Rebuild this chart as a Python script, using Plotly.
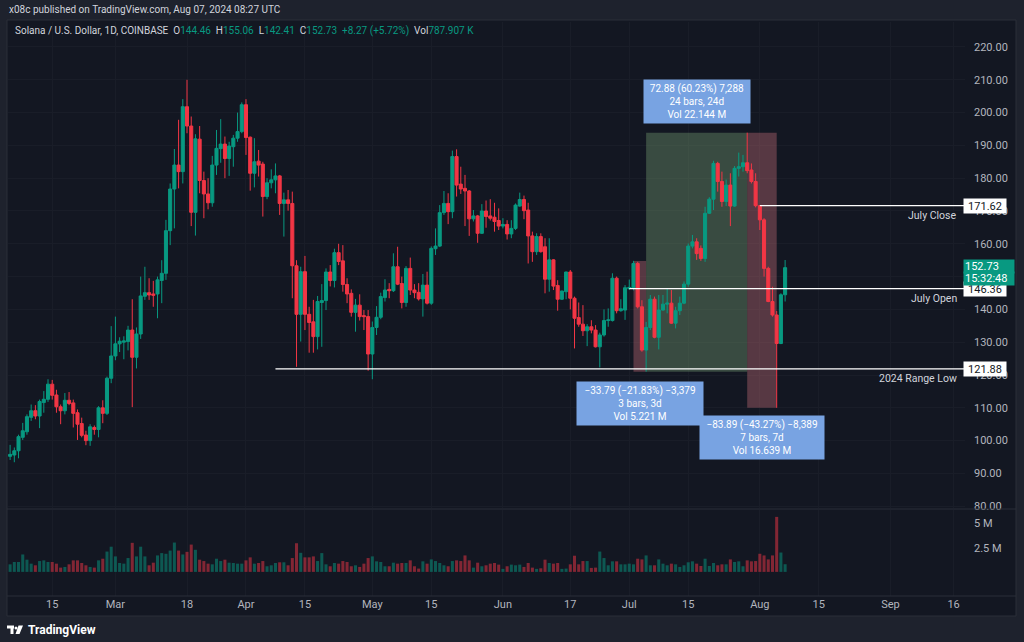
import pandas as pd
import plotly.graph_objects as go

# ---------------- data ----------------
dates = pd.date_range("2024-02-05", "2024-08-07", freq="D")

open_ = [
    # Feb 5-29
    95.2, 95.6, 96.9, 101.0, 102.7, 107.1, 109.1, 107.5, 111.6, 112.6, 117.2, 113.9, 110.3, 109.1, 112.3, 111.5, 108.5, 105.2, 101.7, 100.0, 104.0, 103.4, 110.0, 108.3, 119.0,
    # Mar
    125.8, 129.5, 130.0, 130.2, 133.7, 125.4, 132.5, 144.0, 145.1, 144.7, 144.7, 148.8, 151.0, 164.0, 176.7, 184.0, 182.0, 201.8, 195.9, 169.6, 191.9, 179.3, 175.2, 172.5, 184.0, 189.0, 190.4, 186.0, 189.6, 192.2, 194.2,
    # Apr
    202.4, 192.5, 181.5, 185.2, 184.3, 174.4, 178.6, 179.5, 180.7, 172.3, 173.4, 172.3, 153.3, 138.5, 151.5, 138.5, 136.2, 131.7, 142.1, 142.7, 151.4, 148.8, 157.3, 154.8, 147.6, 144.9, 139.1, 141.3, 138.1, 137.8,
    # May
    126.4, 134.5, 137.6, 143.6, 146.1, 145.7, 153.0, 147.9, 142.1, 152.5, 145.9, 145.2, 143.2, 147.4, 141.9, 158.5, 159.3, 169.5, 172.3, 169.8, 186.6, 178.2, 176.9, 176.1, 167.6, 168.5, 163.2, 170.0, 168.5, 168.1, 167.1,
    # Jun
    165.4, 165.9, 163.0, 164.7, 171.5, 173.5, 170.3, 162.4, 157.6, 162.2, 159.1, 149.2, 155.1, 147.3, 143.1, 145.4, 151.4, 143.4, 137.5, 135.5, 133.5, 134.7, 133.7, 128.6, 132.2, 136.6, 136.6, 149.5, 139.6, 139.8,
    # Jul
    146.36, 146.4, 154.0, 140.8, 127.6, 134.5, 143.1, 131.5, 139.8, 141.6, 141.9, 135.8, 139.6, 141.9, 147.7, 159.3, 160.6, 158.6, 155.5, 169.3, 173.6, 184.5, 179.0, 172.9, 177.9, 171.5, 183.0, 183.5, 184.7, 182.5, 179.0,
    # Aug 1-7
    171.62, 167.3, 152.5, 142.4, 138.3, 129.6, 144.46,
]
high = [
    98.7, 97.9, 101.8, 105.4, 108.0, 111.0, 110.8, 112.5, 115.1, 118.7, 118.5, 115.5, 111.0, 114.5, 114.8, 112.5, 109.5, 107.0, 103.0, 105.0, 104.6, 110.5, 112.3, 119.5, 134.9,
    137.8, 131.5, 131.8, 135.0, 143.1, 134.5, 150.0, 153.0, 149.5, 148.7, 150.0, 155.0, 167.3, 178.4, 188.9, 197.8, 204.1, 210.0, 198.8, 193.4, 195.9, 182.0, 180.0, 186.8, 194.7, 198.0, 192.7, 191.1, 193.2, 200.0, 203.1,
    204.1, 192.7, 192.2, 188.6, 185.0, 180.0, 182.7, 184.5, 181.0, 175.6, 176.4, 175.9, 155.0, 153.0, 156.3, 140.8, 142.9, 144.1, 147.7, 152.5, 153.5, 158.5, 160.0, 159.6, 149.5, 146.1, 143.2, 144.6, 139.8, 139.8,
    136.3, 141.0, 145.1, 149.2, 148.0, 157.1, 159.1, 150.0, 153.2, 155.8, 147.7, 148.0, 150.8, 151.5, 159.2, 164.7, 171.8, 176.1, 175.4, 188.4, 188.8, 183.5, 181.0, 176.4, 170.3, 168.8, 172.1, 173.2, 173.6, 172.5, 170.8,
    167.8, 167.2, 167.2, 172.3, 175.6, 174.7, 172.5, 163.7, 163.2, 163.2, 161.7, 161.7, 155.3, 148.9, 145.7, 151.5, 152.0, 143.9, 142.1, 141.3, 135.5, 136.7, 135.2, 132.9, 140.0, 140.3, 151.0, 150.0, 143.1, 147.4,
    149.1, 154.79, 154.5, 142.8, 136.2, 144.4, 143.9, 144.4, 144.4, 146.4, 145.9, 140.8, 143.9, 148.5, 160.1, 162.7, 161.7, 159.5, 171.3, 174.2, 185.3, 185.0, 182.0, 179.6, 181.5, 183.7, 187.8, 187.1, 193.88, 184.5, 181.5,
    171.8, 167.8, 153.0, 146.9, 139.5, 144.9, 155.06,
]
low = [
    94.1, 93.4, 94.6, 100.2, 101.8, 106.0, 106.5, 103.8, 108.5, 111.8, 112.5, 108.5, 105.0, 108.0, 110.8, 104.0, 100.2, 101.0, 98.6, 98.4, 101.8, 101.0, 105.3, 107.8, 117.5,
    124.5, 127.0, 124.8, 127.5, 110.2, 122.0, 131.0, 142.9, 142.9, 140.8, 137.3, 141.9, 149.0, 159.6, 164.7, 176.9, 178.4, 193.7, 165.4, 162.5, 175.4, 167.8, 170.5, 171.3, 181.0, 184.7, 180.0, 180.7, 183.5, 191.1, 193.7,
    187.1, 176.2, 177.2, 180.5, 168.3, 173.6, 176.9, 175.4, 168.8, 162.2, 170.1, 143.4, 122.5, 130.2, 133.7, 126.8, 126.8, 127.8, 128.6, 139.8, 147.0, 146.7, 153.5, 145.4, 141.9, 137.8, 133.2, 136.6, 133.7, 121.3,
    118.7, 132.2, 137.0, 142.4, 143.4, 145.3, 147.4, 140.3, 140.8, 144.4, 143.4, 142.7, 137.8, 141.5, 141.4, 156.6, 159.0, 168.8, 166.0, 167.8, 174.4, 175.2, 165.4, 162.4, 166.8, 160.3, 163.0, 164.9, 167.1, 163.7, 164.2,
    164.7, 161.3, 161.7, 164.2, 171.3, 167.5, 154.0, 154.5, 156.6, 157.3, 144.9, 145.4, 145.9, 139.6, 142.9, 143.1, 140.0, 128.1, 134.7, 131.9, 128.8, 132.7, 128.4, 122.3, 131.7, 134.7, 136.3, 138.8, 139.3, 136.8,
    145.9, 145.8, 140.3, 127.1, 121.0, 133.7, 131.2, 127.8, 139.6, 138.8, 135.6, 134.2, 138.3, 141.6, 146.9, 158.6, 155.1, 154.8, 154.5, 169.1, 170.3, 175.9, 171.3, 171.5, 165.4, 171.3, 180.5, 182.0, 181.5, 178.4, 171.1,
    164.2, 150.0, 142.2, 137.8, 110.0, 129.4, 142.41,
]
close = [
    95.8, 96.9, 101.2, 103.0, 107.3, 109.1, 107.5, 111.9, 112.6, 117.2, 113.8, 110.3, 109.1, 112.3, 111.3, 108.3, 105.0, 101.6, 100.0, 104.2, 103.4, 110.0, 108.3, 119.0, 125.8,
    129.5, 130.3, 130.4, 133.7, 125.4, 132.5, 144.1, 145.1, 144.4, 144.3, 149.0, 151.0, 164.0, 176.7, 184.0, 182.0, 201.8, 195.9, 169.6, 192.0, 179.3, 175.2, 172.5, 184.0, 189.1, 190.4, 186.0, 189.8, 192.2, 194.2, 202.4,
    192.4, 181.5, 185.0, 184.0, 174.4, 178.6, 179.5, 180.7, 172.3, 173.4, 172.3, 153.3, 138.5, 151.5, 138.5, 136.0, 131.7, 142.4, 142.7, 151.4, 148.8, 157.3, 154.6, 147.6, 144.7, 139.1, 141.3, 137.8, 137.8, 126.4,
    134.5, 137.6, 143.9, 145.9, 145.7, 153.0, 147.7, 142.1, 152.5, 145.9, 145.1, 143.2, 147.4, 141.9, 158.6, 159.3, 169.5, 172.3, 169.8, 186.6, 177.9, 176.7, 176.1, 167.6, 168.5, 163.2, 170.0, 168.3, 167.8, 166.8, 165.4,
    165.9, 163.0, 164.7, 171.8, 173.5, 170.1, 162.4, 157.6, 162.2, 157.6, 149.2, 155.1, 147.1, 143.1, 145.6, 151.4, 143.4, 137.3, 135.5, 133.5, 134.7, 133.7, 128.6, 132.2, 136.6, 136.8, 149.5, 139.6, 140.2, 146.6,
    146.7, 154.0, 140.8, 127.6, 134.5, 143.1, 131.5, 139.8, 141.6, 141.9, 135.8, 139.6, 141.9, 147.7, 159.3, 160.6, 157.0, 155.5, 169.3, 173.6, 184.5, 179.0, 172.9, 177.9, 171.5, 183.0, 183.5, 184.7, 182.3, 179.0, 171.62,
    167.3, 152.5, 142.4, 138.3, 129.6, 144.46, 152.73,
]
volume_m = [
    0.78, 1.02, 1.02, 1.8, 1.26, 0.85, 0.68, 1.12, 1.19, 1.02, 1.02, 0.85, 0.44, 0.51, 0.78, 1.19, 1.19, 0.92, 0.68, 0.51, 0.44, 1.19, 1.36, 2.1, 2.6,
    1.6, 0.92, 0.85, 1.43, 3.0, 1.6, 2.6, 1.6, 0.68, 0.95, 1.7, 1.94, 1.87, 2.2, 3.03, 2.2, 1.8, 2.07, 2.82, 2.28, 1.26, 1.12, 0.85, 0.78, 1.36, 1.12, 1.26, 0.95, 0.92, 0.85, 0.85,
    1.19, 1.5, 0.85, 0.92, 1.12, 0.58, 0.68, 0.92, 0.99, 0.99, 0.68, 1.43, 2.96, 1.97, 1.5, 1.5, 1.6, 1.12, 1.94, 0.78, 0.58, 0.92, 0.85, 1.12, 1.02, 0.58, 0.68, 0.51, 0.85, 1.43,
    1.6, 1.09, 1.02, 0.58, 0.58, 0.95, 0.85, 0.92, 0.92, 1.19, 0.58, 0.34, 1.09, 0.85, 1.29, 1.12, 0.92, 0.68, 0.58, 1.12, 1.19, 1.12, 1.7, 1.19, 0.44, 0.95, 0.58, 0.68, 0.85, 0.92, 0.75,
    0.31, 0.58, 0.75, 0.68, 0.75, 0.51, 0.92, 0.44, 0.31, 0.37, 1.26, 0.92, 0.85, 0.92, 0.31, 0.34, 0.78, 1.67, 0.78, 1.12, 1.12, 0.41, 0.44, 2.1, 1.43, 0.68, 1.09, 1.09, 0.78, 0.78,
    0.85, 0.78, 1.36, 1.29, 1.7, 0.68, 0.68, 1.29, 0.85, 0.68, 0.85, 0.78, 0.51, 0.68, 0.99, 1.09, 0.85, 0.61, 1.36, 0.61, 0.92, 0.68, 0.78, 0.78, 1.29, 1.02, 1.09, 0.58, 1.19, 1.09, 1.12,
    1.87, 1.7, 1.29, 1.7, 5.68, 2.0, 0.79,
]

price_ticks = [80, 90, 100, 110, 120, 130, 140, 150, 160, 170, 180, 190, 200, 210, 220]
vol_ticks = [2.5, 5]
vol_tick_text = ["2.5 M", "5 M"]
x_tick_dates = ["2024-02-15", "2024-03-01", "2024-03-18", "2024-04-01", "2024-04-15", "2024-05-01",
                "2024-05-15", "2024-06-01", "2024-06-17", "2024-07-01", "2024-07-15", "2024-08-01",
                "2024-08-15", "2024-09-01", "2024-09-16"]
x_tick_text = ["15", "Mar", "18", "Apr", "15", "May", "15", "Jun", "17", "Jul", "15", "Aug", "15", "Sep", "16"]

range_low = 121.88
july_open = 146.36
july_close = 171.62
last_price = 152.73
countdown = "15:32:48"

# measurement tools (start/end dates, prices)
m1 = ("2024-07-02", "2024-07-05", 154.79, 121.00)
m2 = ("2024-07-05", "2024-07-29", 121.00, 193.88)
m3 = ("2024-07-29", "2024-08-05", 193.88, 109.99)

assert len(dates) == len(open_) == len(high) == len(low) == len(close) == len(volume_m)

# ---------------- style ----------------
W, H = 1024, 642
L, R, T, B = 8, 59, 22, 46
PW, PH = W - L - R, H - T - B


def px(x):
    return (x - L) / PW


def py(y):
    return (H - B - y) / PH


GREEN = "#089981"
RED = "#f23645"
GREEN_V = "rgba(8,153,129,0.5)"
RED_V = "rgba(242,54,69,0.5)"
BG = "#131722"
OUTER = "#1e222d"
GRID = "#191d28"
TXT = "#b2b5be"
FONT = "Roboto"

vcolors = [GREEN_V if c >= o else RED_V for o, c in zip(open_, close)]

fig = go.Figure()
fig.add_trace(go.Candlestick(
    x=dates, open=open_, high=high, low=low, close=close,
    increasing=dict(line=dict(color=GREEN, width=1), fillcolor=GREEN),
    decreasing=dict(line=dict(color=RED, width=1), fillcolor=RED),
    whiskerwidth=0, xaxis="x", yaxis="y", showlegend=False, hoverinfo="skip",
))
fig.add_trace(go.Bar(
    x=dates, y=volume_m, marker=dict(color=vcolors, line=dict(width=0)),
    xaxis="x", yaxis="y2", showlegend=False, hoverinfo="skip",
))

shapes = []
# chart frame
shapes.append(dict(type="rect", xref="paper", yref="paper", x0=px(7), x1=px(1016), y0=py(616), y1=py(20),
                   fillcolor=BG, line=dict(color="#2a2e39", width=1), layer="below"))
# pane separators
for yy in (509, 596):
    shapes.append(dict(type="line", xref="paper", yref="paper", x0=px(7), x1=px(1016), y0=py(yy), y1=py(yy),
                       line=dict(color="#2a2e39", width=1), layer="above"))

# measurement boxes
box_green = "rgba(120,160,115,0.38)"
box_red = "rgba(200,110,120,0.38)"
for (d0, d1, p0, p1), col in ((m1, box_red), (m2, box_green), (m3, box_red)):
    shapes.append(dict(type="rect", xref="x", yref="y", x0=d0, x1=d1, y0=min(p0, p1), y1=max(p0, p1),
                       fillcolor=col, line=dict(width=0), layer="between"))

x_end = "2024-09-18 17:00"
for d0, val in (("2024-04-08", range_low), ("2024-07-01", july_open), ("2024-08-01", july_close)):
    shapes.append(dict(type="line", xref="x", yref="y", x0=d0, x1=x_end, y0=val, y1=val,
                       line=dict(color="#ffffff", width=1.2), layer="above"))

# TradingView logo (small glyph)
shapes.append(dict(type="rect", xref="paper", yref="paper", x0=px(7), x1=px(14), y0=py(628.5), y1=py(625.5),
                   fillcolor="#ffffff", line=dict(width=0)))
shapes.append(dict(type="rect", xref="paper", yref="paper", x0=px(10.5), x1=px(13.5), y0=py(634), y1=py(626),
                   fillcolor="#ffffff", line=dict(width=0)))
shapes.append(dict(type="circle", xref="paper", yref="paper", x0=px(14.5), x1=px(17.5), y0=py(629.5), y1=py(626.5),
                   fillcolor="#ffffff", line=dict(width=0)))
shapes.append(dict(type="path", xref="paper", yref="paper",
                   path=f"M {px(18.5)},{py(625.5)} L {px(23)},{py(625.5)} L {px(19.5)},{py(634)} L {px(15.5)},{py(634)} Z",
                   fillcolor="#ffffff", line=dict(width=0)))

ann = []
ann.append(dict(xref="paper", yref="paper", x=px(7), y=py(10), xanchor="left", yanchor="middle",
                text="x08c published on TradingView.com, Aug 07, 2024 08:27 UTC", showarrow=False,
                font=dict(family=FONT, size=10, color="#d1d4dc")))


def g(v):
    return f"<span style='color:{GREEN}'>{v}</span>"


sp = "\u00a0\u00a0"
legend_txt = ("Solana / U.S. Dollar, 1D, COINBASE" + sp + "O" + g("144.46") + sp + "H" + g("155.06") + sp +
              "L" + g("142.41") + sp + "C" + g("152.73") + sp + g("+8.27 (+5.72%)") + sp + "Vol" + g("787.907\u00a0K"))
ann.append(dict(xref="paper", yref="paper", x=px(13), y=py(31), xanchor="left", yanchor="middle",
                text=legend_txt, showarrow=False, font=dict(family=FONT, size=10, color="#d1d4dc")))

# right axis tags
for val in (july_close, july_open, range_low):
    ann.append(dict(xref="paper", yref="y", x=px(963), y=val, xanchor="left", yanchor="middle",
                    text=f"{val:.2f}", showarrow=False, bgcolor="#ffffff", borderpad=1, width=40, height=12,
                    font=dict(family=FONT, size=11, color="#131722")))
# current price tag (two stacked rows)
ann.append(dict(xref="paper", yref="y", x=px(963), y=last_price, xanchor="left", yanchor="middle", yshift=1,
                text=f"{last_price:.2f}", showarrow=False, bgcolor=GREEN, borderpad=1, width=48, height=11,
                align="left", font=dict(family=FONT, size=11, color="#ffffff")))
ann.append(dict(xref="paper", yref="y", x=px(963), y=last_price, xanchor="left", yanchor="middle", yshift=-11,
                text=countdown, showarrow=False, bgcolor=GREEN, borderpad=1, width=48, height=11,
                align="left", font=dict(family=FONT, size=11, color="#ffffff")))

# line labels
for val, lab in ((july_close, "July Close"), (july_open, "July Open"), (range_low, "2024 Range Low")):
    ann.append(dict(xref="paper", yref="y", x=px(959), y=val, xanchor="right", yanchor="top", yshift=-1,
                    text=lab, showarrow=False, font=dict(family=FONT, size=10.5, color="#d1d4dc")))

# measurement labels
BLUE = "#78a3e2"
ann.append(dict(xref="x", yref="y", x="2024-07-17", y=m2[3], xanchor="center", yanchor="bottom", yshift=9,
                text="72.88 (60.23%) 7,288<br>24 bars, 24d<br>Vol 22.144\u00a0M", showarrow=False,
                bgcolor=BLUE, borderpad=3, width=100, font=dict(family=FONT, size=10, color="#ffffff")))
ann.append(dict(xref="x", yref="y", x="2024-07-03 12:00", y=m1[3], xanchor="center", yanchor="top", yshift=-9,
                text="\u221233.79 (\u221221.83%) \u22123,379<br>3 bars, 3d<br>Vol 5.221\u00a0M", showarrow=False,
                bgcolor=BLUE, borderpad=3, width=120, font=dict(family=FONT, size=10, color="#ffffff")))
ann.append(dict(xref="x", yref="y", x="2024-08-01 12:00", y=m3[3], xanchor="center", yanchor="top", yshift=-7,
                text="\u221283.89 (\u221243.27%) \u22128,389<br>7 bars, 7d<br>Vol 16.639\u00a0M", showarrow=False,
                bgcolor=BLUE, borderpad=3, width=118, font=dict(family=FONT, size=10, color="#ffffff")))

ann.append(dict(xref="paper", yref="paper", x=px(26), y=py(630), xanchor="left", yanchor="middle",
                text="<b>TradingView</b>", showarrow=False, font=dict(family=FONT, size=12, color="#ffffff")))

fig.update_layout(
    width=W, height=H,
    margin=dict(l=L, r=R, t=T, b=B, pad=0),
    paper_bgcolor=OUTER, plot_bgcolor=BG,
    showlegend=False, bargap=0.28, boxgap=0.15, boxgroupgap=0.15,
    font=dict(family=FONT, color=TXT, size=11),
    xaxis=dict(type="date", range=["2024-02-04 12:00", x_end], anchor="y2",
               tickvals=x_tick_dates, ticktext=x_tick_text, showgrid=True, gridcolor=GRID,
               zeroline=False, showline=False, ticks="", rangeslider=dict(visible=False),
               tickfont=dict(family=FONT, size=11, color=TXT)),
    yaxis=dict(domain=[py(508), 1], range=[79.45, 227.62], side="right", anchor="x",
               tickvals=price_ticks, ticktext=[f"{v:.2f}" for v in price_ticks],
               showgrid=True, gridcolor=GRID, zeroline=False, showline=False, ticks="",
               ticklabelstandoff=8, tickfont=dict(family=FONT, size=11, color=TXT)),
    yaxis2=dict(domain=[0, py(510)], range=[-2.49, 6.39], side="right", anchor="x",
                tickvals=vol_ticks, ticktext=vol_tick_text, showgrid=False, zeroline=False,
                showline=False, ticks="", ticklabelstandoff=8,
                tickfont=dict(family=FONT, size=11, color=TXT)),
    shapes=shapes, annotations=ann,
)

fig.write_html(
    "out.html",
    config={"displayModeBar": False},
    post_script="document.body.style.margin='0';document.body.style.padding='0';document.body.style.overflow='hidden';",
)
